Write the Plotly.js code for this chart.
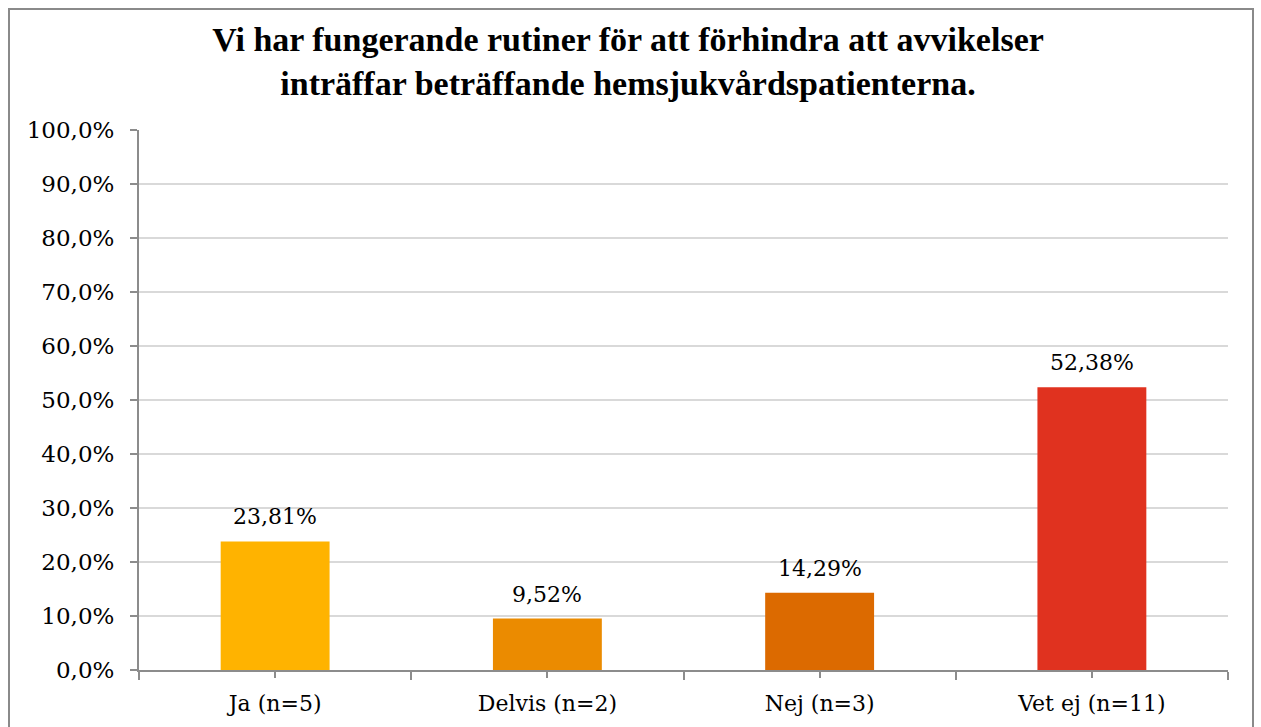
<!DOCTYPE html>
<html><head><meta charset="utf-8">
<script src="https://cdn.plot.ly/plotly-3.0.1.min.js"></script>
<style>
html,body{margin:0;padding:0;background:#fff;overflow:hidden;}
#frame{position:absolute;left:8px;top:8px;width:1246px;height:740px;border:2px solid #8a8a8a;box-sizing:border-box;}
#chart{position:absolute;left:0;top:0;width:1261px;height:727px;}
</style></head>
<body><div id="frame"></div><div id="chart"></div>
<script>
const categories = ["Ja (n=5)", "Delvis (n=2)", "Nej (n=3)", "Vet ej (n=11)"];
const values = [0.2381, 0.0952, 0.1429, 0.5238];
const barColors = ["#FFB300", "#EB8B00", "#DC6A00", "#E0321F"];
const titleText = "Vi har fungerande rutiner för att förhindra att avvikelser<br>inträffar beträffande hemsjukvårdspatienterna.";

const tickFont = {family: "DejaVu Serif", size: 22, color: "#000"};
const axisGray = "#8c8c8c";

const data = [
  {type: "bar", x: categories, y: values, marker: {color: barColors}, hoverinfo: "skip"},
  {type: "scatter", x: categories, y: values, xaxis: "x2", mode: "none",
   hoverinfo: "skip", showlegend: false}
];

const annotations = categories.map((c, i) => ({
  x: c, y: values[i], xref: "x", yref: "y",
  text: (values[i] * 100).toFixed(2).replace(".", ",") + "%",
  showarrow: false, yanchor: "bottom", yshift: 10, font: tickFont
}));

const layout = {
  width: 1261, height: 727,
  paper_bgcolor: "rgba(0,0,0,0)", plot_bgcolor: "rgba(0,0,0,0)",
  margin: {l: 139, r: 33, t: 130, b: 57},
  separators: ", ",
  bargap: 0.6,
  showlegend: false,
  annotations: annotations,
  title: {text: titleText, font: {family: "Liberation Serif", size: 34, color: "#000", weight: "bold"},
          x: 0.498, xanchor: "center", y: 0.93, yanchor: "top", yref: "container"},
  xaxis: {type: "category", showline: true, linecolor: axisGray, linewidth: 2,
          ticks: "outside", tickson: "boundaries", ticklen: 8, tickwidth: 2, tickcolor: axisGray,
          tickfont: tickFont, showgrid: false, zeroline: false, ticklabelstandoff: 13},
  xaxis2: {type: "category", overlaying: "x", matches: "x", showline: false,
           ticks: "outside", ticklen: 7, tickwidth: 2, tickcolor: axisGray,
           showticklabels: false, showgrid: false, zeroline: false},
  yaxis: {range: [0, 1], dtick: 0.1, tickformat: ".1%", showline: true, linecolor: axisGray, linewidth: 2,
          ticks: "outside", ticklen: 7, tickwidth: 2, tickcolor: axisGray,
          gridcolor: "#d9d9d9", gridwidth: 2, zeroline: false,
          tickfont: {family: "DejaVu Serif", size: 23, color: "#000"}, ticklabelstandoff: 11}
};

Plotly.newPlot("chart", data, layout, {displayModeBar: false, staticPlot: true});
</script></body></html>
